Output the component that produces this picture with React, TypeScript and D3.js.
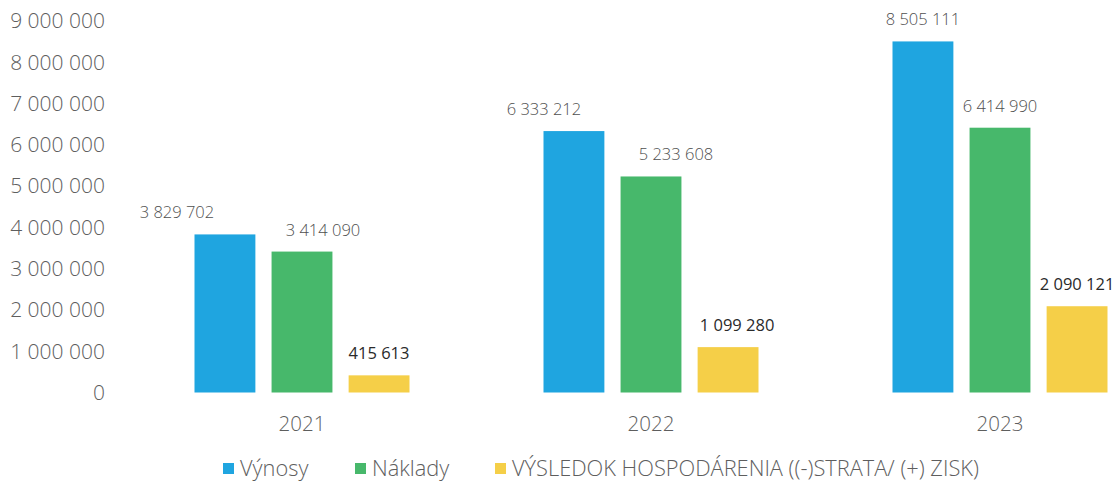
import React, { useEffect, useRef } from 'react';
import * as d3 from 'd3';

const years = ['2021', '2022', '2023'];
const seriesNames = ['Výnosy', 'Náklady', 'VÝSLEDOK HOSPODÁRENIA ((-)STRATA/ (+) ZISK)'];
const vynosy = [3829702, 6333212, 8505111];
const naklady = [3414090, 5233608, 6414990];
const vysledok = [415613, 1099280, 2090121];
const yTicks = [0, 1000000, 2000000, 3000000, 4000000, 5000000, 6000000, 7000000, 8000000, 9000000];

// the labels in the original were dragged sideways by hand
const labelNudge = [
  [-48, 21, 0],
  [-30, 25, 9],
  [0, 0, 0],
];

const colors = ['#1fa5e0', '#47b86b', '#f5cf48'];
const font = '"Open Sans", sans-serif';

const fmt = (v: number) => d3.format(',')(v).replace(/,/g, ' ');

const App = () => {
  const ref = useRef<SVGSVGElement>(null);

  useEffect(() => {
    const svg = d3.select(ref.current);
    svg.selectAll('*').remove();

    const width = 1120;
    const height = 493;
    svg.attr('width', width).attr('height', height);

    const values = [vynosy, naklady, vysledok];

    const y = d3.scaleLinear().domain([0, 9000000]).range([392.5, 21]);

    const x0 = d3.scaleBand().domain(years).range([127.5, 1174.5]).padding(0);
    const x1 = d3.scaleBand()
      .domain(seriesNames)
      .range([0, 215])
      .paddingInner(0.21)
      .paddingOuter(0);
    const groupOffset = (x0.bandwidth() - 215) / 2;

    // y axis labels
    svg.append('g')
      .selectAll('text')
      .data(yTicks)
      .enter()
      .append('text')
      .attr('x', 105)
      .attr('y', d => y(d))
      .attr('dy', '0.35em')
      .attr('text-anchor', 'end')
      .attr('font-family', font)
      .attr('font-size', 21)
      .attr('font-weight', 300)
      .attr('fill', '#5e5e5e')
      .text(d => fmt(d));

    // bars + value labels
    years.forEach((yr, i) => {
      const g = svg.append('g')
        .attr('transform', `translate(${(x0(yr) as number) + groupOffset},0)`);

      seriesNames.forEach((s, j) => {
        const v = values[j][i];
        const bx = x1(s) as number;
        g.append('rect')
          .attr('x', bx)
          .attr('y', y(v))
          .attr('width', x1.bandwidth())
          .attr('height', y(0) - y(v))
          .attr('fill', colors[j]);

        g.append('text')
          .attr('x', bx + x1.bandwidth() / 2 + labelNudge[i][j])
          .attr('y', y(v) - 16)
          .attr('text-anchor', 'middle')
          .attr('font-family', font)
          .attr('font-size', 16.5)
          .attr('font-weight', j === 2 ? 400 : 300)
          .attr('fill', j === 2 ? '#2a2a2a' : '#4f4f4f')
          .text(fmt(v));
      });
    });

    // x axis labels
    svg.append('g')
      .selectAll('text')
      .data(years)
      .enter()
      .append('text')
      .attr('x', d => (x0(d) as number) + x0.bandwidth() / 2)
      .attr('y', 424)
      .attr('dy', '0.35em')
      .attr('text-anchor', 'middle')
      .attr('font-family', font)
      .attr('font-size', 20.5)
      .attr('font-weight', 300)
      .attr('fill', '#5e5e5e')
      .text(d => d);

    // legend
    const legendX = [223, 355, 495];
    const legend = svg.append('g');
    seriesNames.forEach((s, j) => {
      legend.append('rect')
        .attr('x', legendX[j])
        .attr('y', 463)
        .attr('width', 11)
        .attr('height', 11)
        .attr('fill', colors[j]);
      legend.append('text')
        .attr('x', legendX[j] + 17)
        .attr('y', 468)
        .attr('dy', '0.35em')
        .attr('font-family', font)
        .attr('font-size', 21.8)
        .attr('font-weight', 300)
        .attr('fill', '#5e5e5e')
        .text(s);
    });
  }, []);

  return <svg ref={ref} style={{ position: 'absolute', left: 0, top: 0 }} />;
};

export default App;
